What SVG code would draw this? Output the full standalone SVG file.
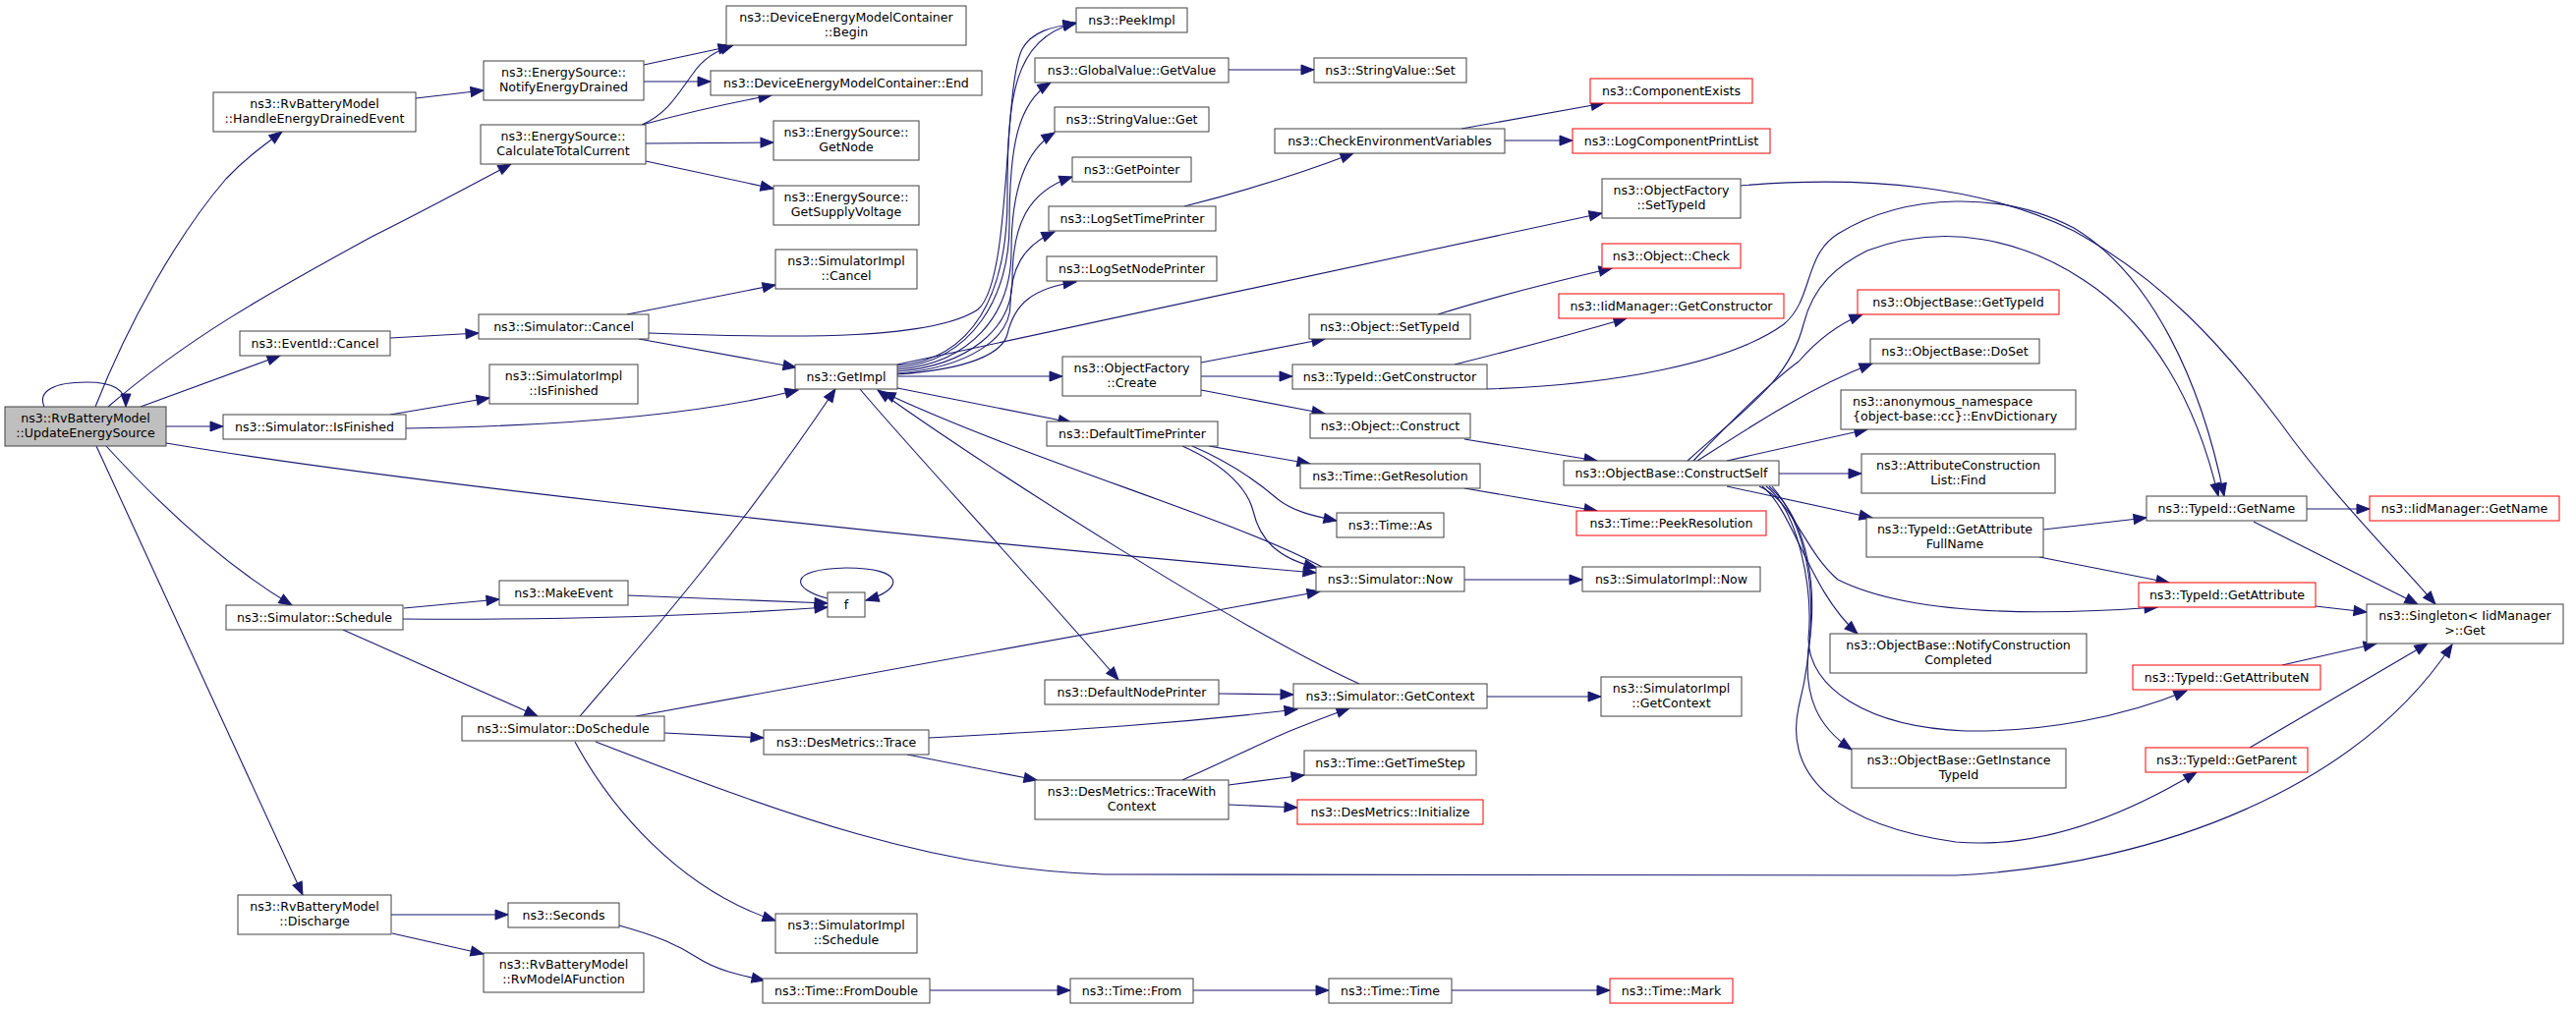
<svg xmlns="http://www.w3.org/2000/svg" width="2621" height="1027" viewBox="0 0 2621 1027">
<style>
.n rect{fill:#fff;stroke:#404040;stroke-width:1}
.r rect{stroke:#ff0000}
.g rect{fill:#bfbfbf}
text{font-family:"DejaVu Sans","Liberation Sans",sans-serif;font-size:12.6px;text-anchor:middle;fill:#000}
.lt text{text-anchor:start}
#edges path{fill:none;stroke:#191970;stroke-width:1.1;marker-end:url(#a)}
</style>
<defs>
<marker id="a" markerWidth="15" markerHeight="11" refX="13" refY="5" orient="auto" markerUnits="userSpaceOnUse" overflow="visible">
<path d="M0,0 L13,5 L0,10 z" fill="#191970" stroke="#191970" stroke-width="1"/>
</marker>
</defs>
<rect width="2621" height="1027" fill="#fff"/>
<g id="edges">
<path d="M45,414 C38,398 55,389 88,389 C115,389 128,396 128,414"/>
<path d="M97,414 C130,330 180,240 230,182 C248,163 264,151 287,134"/>
<path d="M110,414 C190,345 270,300 380,240 C440,210 480,188 520,167"/>
<path d="M143,414 L285,362"/>
<path d="M169,434 L227,434"/>
<path d="M169,451 C400,490 900,545 1339,583"/>
<path d="M108,454 C150,500 220,570 297,616"/>
<path d="M98,454 L308,911"/>
<path d="M423,100 L492,92"/>
<path d="M655,66 L744,47"/>
<path d="M655,83 L723,83"/>
<path d="M653,127 C680,115 690,95 705,75 C715,60 728,52 746,46"/>
<path d="M653,127 C690,117 730,107 785,97"/>
<path d="M657,146 L787,145"/>
<path d="M657,164 L787,192"/>
<path d="M397,344 L487,339"/>
<path d="M638,320 L789,290"/>
<path d="M660,339 C820,345 950,345 995,315 C1030,285 1020,90 1040,50 C1050,32 1070,27 1095,24"/>
<path d="M650,345 L810,374"/>
<path d="M397,422 L498,405"/>
<path d="M413,436 C550,434 700,425 812,397"/>
<path d="M411,619 L508,610"/>
<path d="M410,630 C550,631 700,628 842,618"/>
<path d="M349,641 L547,729"/>
<path d="M639,606 L842,614"/>
<path d="M842,609 C805,600 800,579 861,578 C922,578 920,600 881,611"/>
<path d="M590,729 C640,670 740,560 850,396"/>
<path d="M647,729 L1343,602"/>
<path d="M676,746 L777,751"/>
<path d="M585,755 C620,820 690,905 789,937"/>
<path d="M606,755 C800,830 950,885 1123,890 L1990,891 C2200,880 2400,800 2495,656"/>
<path d="M398,931 L517,931"/>
<path d="M399,950 L492,971"/>
<path d="M630,942 C670,953 690,962 710,975 C730,988 755,993 778,998"/>
<path d="M946,1008 L1089,1008"/>
<path d="M1214,1008 L1352,1008"/>
<path d="M1477,1008 L1638,1008"/>
<path d="M945,751 C1100,743 1200,736 1320,722"/>
<path d="M923,768 L1055,794"/>
<path d="M1203,794 C1240,778 1280,758 1310,745 C1330,737 1350,729 1373,721"/>
<path d="M1250,799 L1327,789"/>
<path d="M1250,819 L1320,822"/>
<path d="M1240,706 L1316,707"/>
<path d="M1513,709 L1629,709"/>
<path d="M1383,696 C1260,640 1010,480 893,397"/>
<path d="M1345,577 C1260,530 1050,470 898,399"/>
<path d="M1490,590 L1610,590"/>
<path d="M1203,454 C1250,475 1270,500 1275,520 C1282,550 1300,568 1340,578"/>
<path d="M1213,454 C1255,472 1285,495 1300,508 C1315,520 1335,525 1360,530"/>
<path d="M1230,454 L1333,472"/>
<path d="M913,372 C990,366 1025,300 1025,200 C1025,100 1030,40 1095,23"/>
<path d="M913,374 C990,368 1027,300 1027,230 C1027,150 1035,105 1069,84"/>
<path d="M913,376 C988,370 1029,320 1029,255 C1029,200 1040,155 1073,135"/>
<path d="M913,378 C985,372 1030,335 1030,285 C1030,230 1045,195 1091,180"/>
<path d="M913,380 C985,374 1028,345 1028,310 C1028,275 1040,250 1073,236"/>
<path d="M913,381 C985,376 1020,360 1025,340 C1032,310 1050,293 1095,287"/>
<path d="M913,371 L1630,217"/>
<path d="M913,383 L1081,383"/>
<path d="M913,395 L1090,430"/>
<path d="M875,396 C920,450 1050,590 1138,692"/>
<path d="M1250,71 L1337,71"/>
<path d="M1205,210 C1260,196 1320,178 1377,156"/>
<path d="M1487,131 L1632,105"/>
<path d="M1531,143 L1600,143"/>
<path d="M1222,369 L1348,345"/>
<path d="M1222,383 L1315,383"/>
<path d="M1222,397 L1348,421"/>
<path d="M1463,320 C1520,302 1580,287 1640,273"/>
<path d="M1480,371 C1540,356 1600,340 1655,324"/>
<path d="M1513,396 C1640,392 1760,370 1815,330 C1845,305 1835,260 1870,238 C1940,195 2040,195 2110,232 C2190,280 2240,390 2263,505"/>
<path d="M1490,447 L1625,469"/>
<path d="M1490,497 L1625,520"/>
<path d="M1771,189 C1900,178 2020,190 2110,235 C2200,285 2260,350 2320,430 C2370,500 2430,560 2478,615"/>
<path d="M1717,469 C1770,420 1820,390 1835,330 C1845,290 1870,270 1900,255 C1980,225 2060,245 2120,285 C2190,330 2235,410 2257,505"/>
<path d="M1723,469 C1760,430 1800,390 1830,368 C1850,345 1870,330 1895,320"/>
<path d="M1727,469 C1780,435 1840,395 1905,370"/>
<path d="M1757,469 L1900,437"/>
<path d="M1810,482 L1894,482"/>
<path d="M1757,495 L1905,527"/>
<path d="M1790,495 C1825,510 1835,560 1870,590 C1950,630 2100,625 2195,618"/>
<path d="M1793,495 C1825,520 1840,600 1890,645"/>
<path d="M1797,495 C1830,520 1845,600 1840,650 C1840,700 1900,740 2000,744 C2080,745 2160,730 2225,703"/>
<path d="M1800,495 C1840,530 1850,600 1840,660 C1835,710 1850,740 1884,763"/>
<path d="M1803,495 C1850,550 1850,640 1830,720 C1815,790 1870,840 1990,857 C2080,865 2170,825 2235,786"/>
<path d="M2079,539 L2184,527"/>
<path d="M2075,567 L2207,593"/>
<path d="M2347,518 L2411,518"/>
<path d="M2293,531 L2460,615"/>
<path d="M2356,617 L2408,623"/>
<path d="M2322,677 L2418,655"/>
<path d="M2289,761 L2470,655"/>
</g>
<g id="n-update" class="n g"><rect x="5" y="414" width="164" height="40"/><text x="87" y="430">ns3::RvBatteryModel</text><text x="87" y="445">::UpdateEnergySource</text></g>
<g id="n-hede" class="n"><rect x="217" y="94" width="206" height="40"/><text x="320" y="110">ns3::RvBatteryModel</text><text x="320" y="125">::HandleEnergyDrainedEvent</text></g>
<g id="n-eventidcancel" class="n"><rect x="244" y="337" width="153" height="25"/><text x="320.5" y="354">ns3::EventId::Cancel</text></g>
<g id="n-isfinished" class="n"><rect x="227" y="422" width="186" height="25"/><text x="320" y="439">ns3::Simulator::IsFinished</text></g>
<g id="n-schedule" class="n"><rect x="230" y="616" width="180" height="25"/><text x="320" y="633">ns3::Simulator::Schedule</text></g>
<g id="n-discharge" class="n"><rect x="242" y="911" width="156" height="40"/><text x="320" y="927">ns3::RvBatteryModel</text><text x="320" y="942">::Discharge</text></g>
<g id="n-ned" class="n"><rect x="492" y="62" width="163" height="40"/><text x="573.5" y="78">ns3::EnergySource::</text><text x="573.5" y="93">NotifyEnergyDrained</text></g>
<g id="n-ctc" class="n"><rect x="489" y="127" width="168" height="40"/><text x="573" y="143">ns3::EnergySource::</text><text x="573" y="158">CalculateTotalCurrent</text></g>
<g id="n-simcancel" class="n"><rect x="487" y="320" width="173" height="25"/><text x="573.5" y="337">ns3::Simulator::Cancel</text></g>
<g id="n-simimplisfinished" class="n"><rect x="498" y="371" width="151" height="40"/><text x="573.5" y="387">ns3::SimulatorImpl</text><text x="573.5" y="402">::IsFinished</text></g>
<g id="n-makeevent" class="n"><rect x="508" y="591" width="131" height="25"/><text x="573.5" y="608">ns3::MakeEvent</text></g>
<g id="n-doschedule" class="n"><rect x="470" y="729" width="206" height="25"/><text x="573" y="746">ns3::Simulator::DoSchedule</text></g>
<g id="n-seconds" class="n"><rect x="517" y="919" width="113" height="25"/><text x="573.5" y="936">ns3::Seconds</text></g>
<g id="n-rvmodela" class="n"><rect x="492" y="970" width="163" height="40"/><text x="573.5" y="986">ns3::RvBatteryModel</text><text x="573.5" y="1001">::RvModelAFunction</text></g>
<g id="n-begin" class="n"><rect x="739" y="6" width="244" height="40"/><text x="861" y="22">ns3::DeviceEnergyModelContainer</text><text x="861" y="37">::Begin</text></g>
<g id="n-end" class="n"><rect x="723" y="72" width="276" height="25"/><text x="861" y="89">ns3::DeviceEnergyModelContainer::End</text></g>
<g id="n-getnode" class="n"><rect x="787" y="123" width="148" height="40"/><text x="861" y="139">ns3::EnergySource::</text><text x="861" y="154">GetNode</text></g>
<g id="n-getsupplyvoltage" class="n"><rect x="787" y="189" width="148" height="40"/><text x="861" y="205">ns3::EnergySource::</text><text x="861" y="220">GetSupplyVoltage</text></g>
<g id="n-simimplcancel" class="n"><rect x="789" y="254" width="144" height="40"/><text x="861" y="270">ns3::SimulatorImpl</text><text x="861" y="285">::Cancel</text></g>
<g id="n-getimpl" class="n"><rect x="809" y="371" width="104" height="25"/><text x="861" y="388">ns3::GetImpl</text></g>
<g id="n-f" class="n"><rect x="842" y="603" width="38" height="25"/><text x="861" y="620">f</text></g>
<g id="n-trace" class="n"><rect x="777" y="743" width="168" height="25"/><text x="861" y="760">ns3::DesMetrics::Trace</text></g>
<g id="n-simimplschedule" class="n"><rect x="789" y="930" width="144" height="40"/><text x="861" y="946">ns3::SimulatorImpl</text><text x="861" y="961">::Schedule</text></g>
<g id="n-fromdouble" class="n"><rect x="776" y="996" width="170" height="25"/><text x="861" y="1013">ns3::Time::FromDouble</text></g>
<g id="n-peekimpl" class="n"><rect x="1095" y="8" width="113" height="25"/><text x="1151.5" y="25">ns3::PeekImpl</text></g>
<g id="n-getvalue" class="n"><rect x="1053" y="59" width="197" height="25"/><text x="1151.5" y="76">ns3::GlobalValue::GetValue</text></g>
<g id="n-svget" class="n"><rect x="1073" y="109" width="157" height="25"/><text x="1151.5" y="126">ns3::StringValue::Get</text></g>
<g id="n-getpointer" class="n"><rect x="1091" y="160" width="121" height="25"/><text x="1151.5" y="177">ns3::GetPointer</text></g>
<g id="n-logsettimeprinter" class="n"><rect x="1067" y="210" width="170" height="25"/><text x="1152" y="227">ns3::LogSetTimePrinter</text></g>
<g id="n-logsetnodeprinter" class="n"><rect x="1065" y="261" width="173" height="25"/><text x="1151.5" y="278">ns3::LogSetNodePrinter</text></g>
<g id="n-ofcreate" class="n"><rect x="1081" y="363" width="141" height="40"/><text x="1151.5" y="379">ns3::ObjectFactory</text><text x="1151.5" y="394">::Create</text></g>
<g id="n-defaulttimeprinter" class="n"><rect x="1065" y="429" width="174" height="25"/><text x="1152" y="446">ns3::DefaultTimePrinter</text></g>
<g id="n-defaultnodeprinter" class="n"><rect x="1063" y="692" width="177" height="25"/><text x="1151.5" y="709">ns3::DefaultNodePrinter</text></g>
<g id="n-tracewithcontext" class="n"><rect x="1053" y="794" width="197" height="40"/><text x="1151.5" y="810">ns3::DesMetrics::TraceWith</text><text x="1151.5" y="825">Context</text></g>
<g id="n-timefrom" class="n"><rect x="1089" y="996" width="125" height="25"/><text x="1151.5" y="1013">ns3::Time::From</text></g>
<g id="n-svset" class="n"><rect x="1337" y="59" width="155" height="25"/><text x="1414.5" y="76">ns3::StringValue::Set</text></g>
<g id="n-checkenv" class="n"><rect x="1297" y="131" width="234" height="25"/><text x="1414" y="148">ns3::CheckEnvironmentVariables</text></g>
<g id="n-objsettypeid" class="n"><rect x="1332" y="320" width="164" height="25"/><text x="1414" y="337">ns3::Object::SetTypeId</text></g>
<g id="n-getconstructor" class="n"><rect x="1315" y="371" width="198" height="25"/><text x="1414" y="388">ns3::TypeId::GetConstructor</text></g>
<g id="n-objconstruct" class="n"><rect x="1333" y="421" width="163" height="25"/><text x="1414.5" y="438">ns3::Object::Construct</text></g>
<g id="n-getresolution" class="n"><rect x="1323" y="472" width="183" height="25"/><text x="1414.5" y="489">ns3::Time::GetResolution</text></g>
<g id="n-timeas" class="n"><rect x="1360" y="522" width="109" height="25"/><text x="1414.5" y="539">ns3::Time::As</text></g>
<g id="n-simnow" class="n"><rect x="1339" y="577" width="151" height="25"/><text x="1414.5" y="594">ns3::Simulator::Now</text></g>
<g id="n-simgetcontext" class="n"><rect x="1316" y="696" width="197" height="25"/><text x="1414.5" y="713">ns3::Simulator::GetContext</text></g>
<g id="n-gettimestep" class="n"><rect x="1327" y="764" width="175" height="25"/><text x="1414.5" y="781">ns3::Time::GetTimeStep</text></g>
<g id="n-initialize" class="n r"><rect x="1320" y="814" width="189" height="25"/><text x="1414.5" y="831">ns3::DesMetrics::Initialize</text></g>
<g id="n-timetime" class="n"><rect x="1352" y="996" width="125" height="25"/><text x="1414.5" y="1013">ns3::Time::Time</text></g>
<g id="n-componentexists" class="n r"><rect x="1618" y="80" width="165" height="25"/><text x="1700.5" y="97">ns3::ComponentExists</text></g>
<g id="n-logcompprintlist" class="n r"><rect x="1600" y="131" width="201" height="25"/><text x="1700.5" y="148">ns3::LogComponentPrintList</text></g>
<g id="n-ofsettypeid" class="n"><rect x="1630" y="182" width="141" height="40"/><text x="1700.5" y="198">ns3::ObjectFactory</text><text x="1700.5" y="213">::SetTypeId</text></g>
<g id="n-objcheck" class="n r"><rect x="1630" y="248" width="141" height="25"/><text x="1700.5" y="265">ns3::Object::Check</text></g>
<g id="n-iidgetconstructor" class="n r"><rect x="1586" y="299" width="229" height="25"/><text x="1700.5" y="316">ns3::IidManager::GetConstructor</text></g>
<g id="n-constructself" class="n"><rect x="1591" y="469" width="219" height="25"/><text x="1700.5" y="486">ns3::ObjectBase::ConstructSelf</text></g>
<g id="n-peekresolution" class="n r"><rect x="1604" y="520" width="193" height="25"/><text x="1700.5" y="537">ns3::Time::PeekResolution</text></g>
<g id="n-simimplnow" class="n"><rect x="1610" y="577" width="181" height="25"/><text x="1700.5" y="594">ns3::SimulatorImpl::Now</text></g>
<g id="n-simimplgetcontext" class="n"><rect x="1629" y="689" width="143" height="40"/><text x="1700.5" y="705">ns3::SimulatorImpl</text><text x="1700.5" y="720">::GetContext</text></g>
<g id="n-timemark" class="n r"><rect x="1638" y="996" width="125" height="25"/><text x="1700.5" y="1013">ns3::Time::Mark</text></g>
<g id="n-obgettypeid" class="n r"><rect x="1890" y="295" width="205" height="25"/><text x="1992.5" y="312">ns3::ObjectBase::GetTypeId</text></g>
<g id="n-doset" class="n"><rect x="1903" y="345" width="172" height="25"/><text x="1989" y="362">ns3::ObjectBase::DoSet</text></g>
<g id="n-envdict" class="n lt"><rect x="1873" y="397" width="239" height="40"/><text x="1885" y="413">ns3::anonymous_namespace</text><text x="1885" y="428">{object-base::cc}::EnvDictionary</text></g>
<g id="n-find" class="n"><rect x="1894" y="462" width="197" height="40"/><text x="1992.5" y="478">ns3::AttributeConstruction</text><text x="1992.5" y="493">List::Find</text></g>
<g id="n-getattrfullname" class="n"><rect x="1899" y="527" width="180" height="40"/><text x="1989" y="543">ns3::TypeId::GetAttribute</text><text x="1989" y="558">FullName</text></g>
<g id="n-notifyconstruction" class="n"><rect x="1862" y="645" width="261" height="40"/><text x="1992.5" y="661">ns3::ObjectBase::NotifyConstruction</text><text x="1992.5" y="676">Completed</text></g>
<g id="n-getinstancetypeid" class="n"><rect x="1884" y="762" width="218" height="40"/><text x="1993" y="778">ns3::ObjectBase::GetInstance</text><text x="1993" y="793">TypeId</text></g>
<g id="n-typeidgetname" class="n"><rect x="2184" y="505" width="163" height="25"/><text x="2265.5" y="522">ns3::TypeId::GetName</text></g>
<g id="n-iidgetname" class="n r"><rect x="2411" y="505" width="193" height="25"/><text x="2507.5" y="522">ns3::IidManager::GetName</text></g>
<g id="n-getattribute" class="n r"><rect x="2176" y="593" width="180" height="25"/><text x="2266" y="610">ns3::TypeId::GetAttribute</text></g>
<g id="n-singleton" class="n"><rect x="2408" y="615" width="200" height="40"/><text x="2508" y="631">ns3::Singleton&lt; IidManager</text><text x="2508" y="646">&gt;::Get</text></g>
<g id="n-getattributen" class="n r"><rect x="2170" y="677" width="191" height="25"/><text x="2265.5" y="694">ns3::TypeId::GetAttributeN</text></g>
<g id="n-getparent" class="n r"><rect x="2183" y="761" width="165" height="25"/><text x="2265.5" y="778">ns3::TypeId::GetParent</text></g>
</svg>
